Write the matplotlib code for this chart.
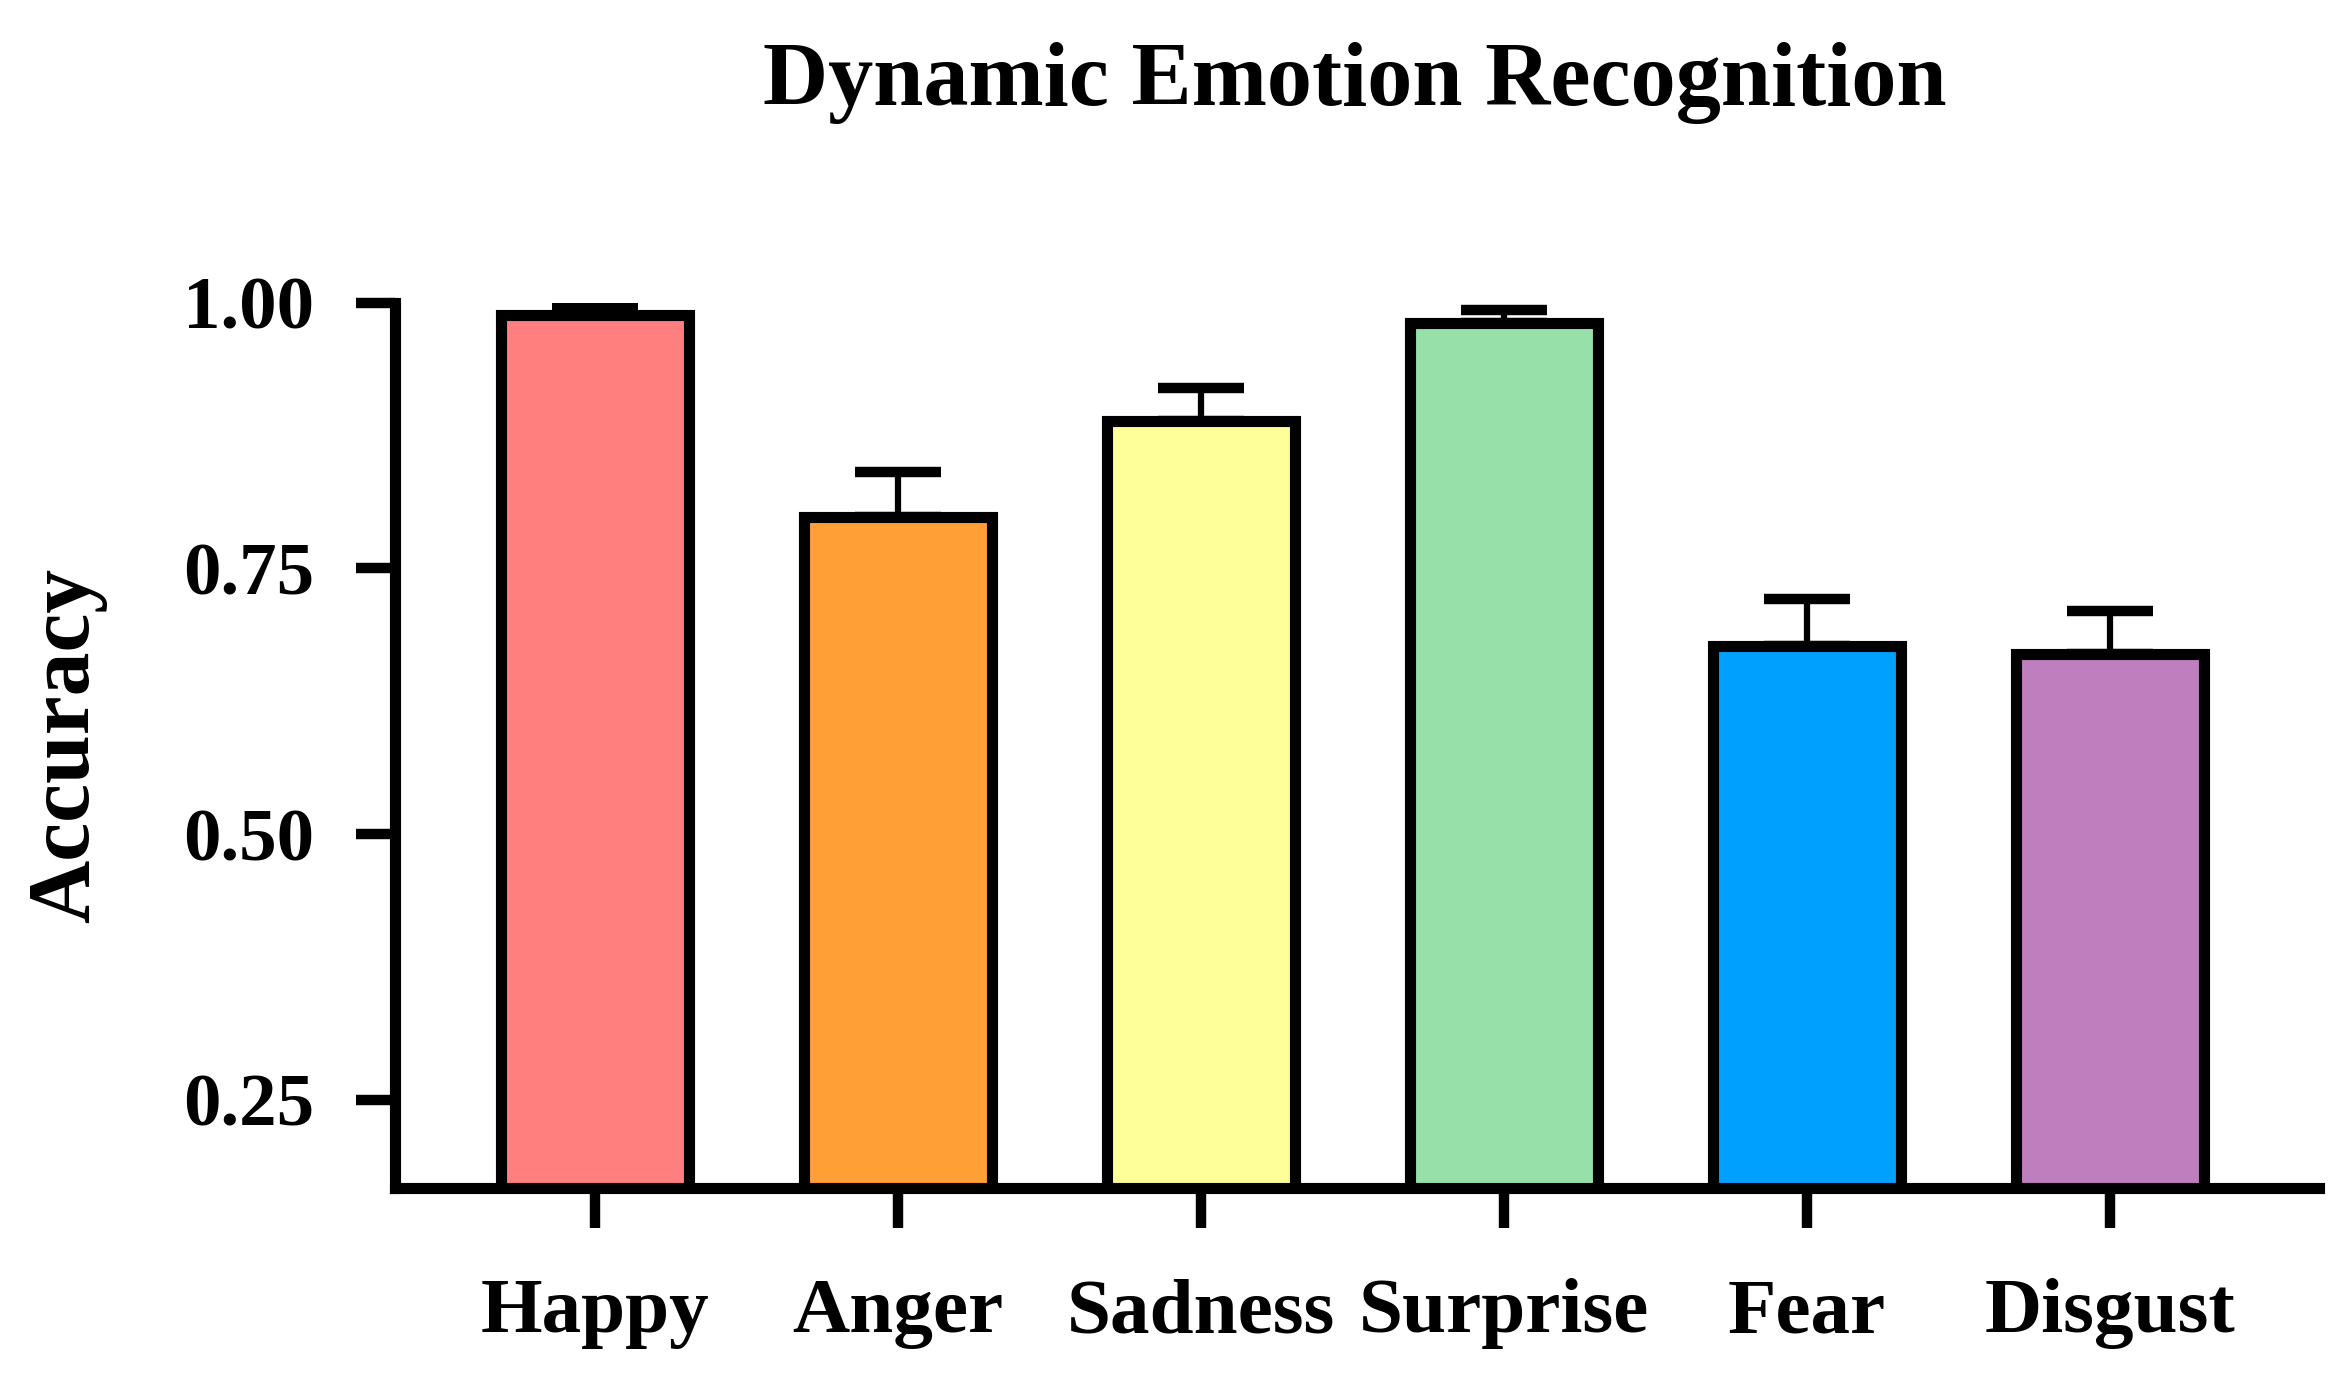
import matplotlib
matplotlib.use('Agg')
import matplotlib.pyplot as plt
import numpy as np

emotions = ['Happy', 'Anger', 'Sadness', 'Surprise', 'Fear', 'Disgust']
accuracy = [0.988, 0.798, 0.889, 0.981, 0.677, 0.669]
err_upper = [0.009, 0.043, 0.031, 0.012, 0.044, 0.041]
colors = ['#FF7F7F', '#FF9F35', '#FFFF99', '#98E0AA', '#00A0FF', '#BF7FBF']
yticks = [0.25, 0.50, 0.75, 1.00]

plt.rcParams['font.family'] = ['Liberation Serif', 'DejaVu Serif']
plt.rcParams['font.weight'] = 'bold'

fig = plt.figure(figsize=(23.52, 13.88), dpi=100)
ax = fig.add_axes([0.168, 0.144, 0.818, 0.638])

x = np.arange(len(emotions))
ax.errorbar(x, accuracy, yerr=[np.zeros(len(err_upper)), err_upper], fmt='none',
            ecolor='black', elinewidth=4.5, capsize=31, capthick=7.5, zorder=1)
ax.bar(x, accuracy, width=0.62, color=colors, edgecolor='black', linewidth=8, zorder=2)

ax.set_xlim(-0.66, 5.69)
ax.set_ylim(0.167, 1.0)
ax.set_yticks(yticks)
ax.set_yticklabels(['%.2f' % t for t in yticks])
ax.set_xticks(x)
ax.set_xticklabels(emotions)

for side in ['top', 'right']:
    ax.spines[side].set_visible(False)
for side in ['left', 'bottom']:
    ax.spines[side].set_linewidth(8)
    ax.spines[side].set_capstyle('projecting')

ax.tick_params(axis='both', width=7.5, direction='out')
ax.tick_params(axis='x', length=29, pad=36, labelsize=57)
ax.tick_params(axis='y', length=28, pad=30, labelsize=54)
for lab in ax.get_xticklabels() + ax.get_yticklabels():
    lab.set_fontweight('bold')

ax.set_ylabel('Accuracy', fontsize=63, fontweight='bold', labelpad=55)
fig.suptitle('Dynamic Emotion Recognition', fontsize=65, fontweight='bold',
             x=0.576, y=0.94, va='center')

plt.savefig('out.png', dpi=100)
